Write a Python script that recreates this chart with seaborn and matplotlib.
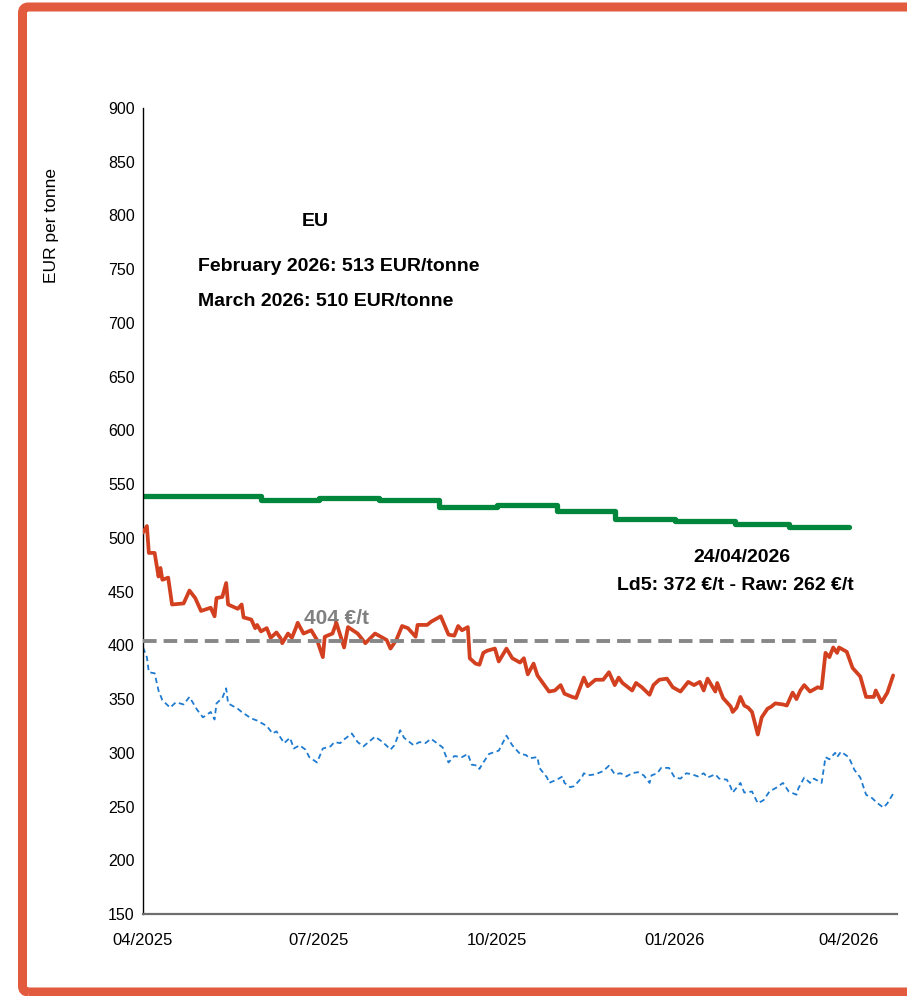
import pandas as pd
import matplotlib
matplotlib.use("Agg")
import matplotlib.pyplot as plt
import matplotlib.dates as mdates
from matplotlib.patches import FancyBboxPatch
from matplotlib.transforms import IdentityTransform
import seaborn as sns

# Ld5 daily price (EUR/t)
ld5_dates = ["2025-04-01", "2025-04-03", "2025-04-04", "2025-04-07", "2025-04-09", "2025-04-10",
             "2025-04-11", "2025-04-14", "2025-04-16", "2025-04-22", "2025-04-25", "2025-04-28",
             "2025-05-01", "2025-05-06", "2025-05-08", "2025-05-09", "2025-05-12", "2025-05-14",
             "2025-05-15", "2025-05-20", "2025-05-22", "2025-05-23", "2025-05-27", "2025-05-29",
             "2025-05-30", "2025-06-01", "2025-06-04", "2025-06-06", "2025-06-09", "2025-06-11",
             "2025-06-12", "2025-06-15", "2025-06-17", "2025-06-19", "2025-06-20", "2025-06-23",
             "2025-06-27", "2025-06-30", "2025-07-03", "2025-07-04", "2025-07-08", "2025-07-10",
             "2025-07-14", "2025-07-16", "2025-07-21", "2025-07-25", "2025-07-30", "2025-08-05",
             "2025-08-07", "2025-08-10", "2025-08-13", "2025-08-16", "2025-08-20", "2025-08-21",
             "2025-08-26", "2025-08-28", "2025-09-02", "2025-09-06", "2025-09-09", "2025-09-11",
             "2025-09-13", "2025-09-16", "2025-09-17", "2025-09-20", "2025-09-22", "2025-09-24",
             "2025-09-26", "2025-09-30", "2025-10-02", "2025-10-06", "2025-10-09", "2025-10-13",
             "2025-10-15", "2025-10-17", "2025-10-20", "2025-10-22", "2025-10-28", "2025-10-31",
             "2025-11-03", "2025-11-05", "2025-11-09", "2025-11-11", "2025-11-15", "2025-11-17",
             "2025-11-21", "2025-11-25", "2025-11-28", "2025-12-01", "2025-12-03", "2025-12-05",
             "2025-12-10", "2025-12-12", "2025-12-15", "2025-12-19", "2025-12-21", "2025-12-24",
             "2025-12-28", "2025-12-31", "2026-01-04", "2026-01-08", "2026-01-11", "2026-01-14",
             "2026-01-16", "2026-01-18", "2026-01-20", "2026-01-22", "2026-01-23", "2026-01-26",
             "2026-01-30", "2026-01-31", "2026-02-02", "2026-02-04", "2026-02-06", "2026-02-08",
             "2026-02-10", "2026-02-13", "2026-02-15", "2026-02-18", "2026-02-20", "2026-02-22",
             "2026-02-26", "2026-02-28", "2026-03-03", "2026-03-05", "2026-03-07", "2026-03-09",
             "2026-03-12", "2026-03-16", "2026-03-18", "2026-03-20", "2026-03-22", "2026-03-24",
             "2026-03-26", "2026-03-27", "2026-03-31", "2026-04-03", "2026-04-07", "2026-04-10",
             "2026-04-14", "2026-04-15", "2026-04-18", "2026-04-21", "2026-04-24"]
ld5_values = [505, 511, 486, 486, 464, 472,
              461, 463, 438, 439, 451, 444,
              432, 435, 427, 444, 445, 458,
              438, 434, 438, 426, 424, 416,
              419, 413, 416, 407, 412, 407,
              402, 411, 407, 416, 421, 411,
              414, 405, 389, 408, 411, 421,
              398, 417, 411, 402, 411, 405,
              397, 405, 418, 416, 408, 419,
              419, 422, 427, 410, 409, 418,
              414, 417, 388, 383, 382, 393,
              395, 397, 385, 397, 388, 384,
              388, 373, 383, 372, 357, 358,
              363, 355, 352, 351, 370, 362,
              368, 368, 375, 363, 370, 365,
              358, 365, 361, 354, 363, 368,
              369, 361, 357, 366, 363, 366,
              358, 369, 363, 357, 365, 351,
              343, 338, 342, 352, 344, 342,
              338, 317, 333, 341, 343, 346,
              345, 344, 356, 350, 358, 363,
              357, 361, 360, 393, 389, 398,
              393, 398, 394, 379, 371, 352,
              352, 358, 347, 356, 372]

# raw price (EUR/t)
raw_dates = ["2025-04-01", "2025-04-03", "2025-04-04", "2025-04-07", "2025-04-09", "2025-04-11",
             "2025-04-15", "2025-04-18", "2025-04-22", "2025-04-25", "2025-04-29", "2025-05-02",
             "2025-05-06", "2025-05-08", "2025-05-09", "2025-05-12", "2025-05-14", "2025-05-15",
             "2025-05-20", "2025-05-22", "2025-05-27", "2025-05-30", "2025-06-04", "2025-06-07",
             "2025-06-09", "2025-06-13", "2025-06-16", "2025-06-18", "2025-06-21", "2025-06-24",
             "2025-06-26", "2025-06-30", "2025-07-03", "2025-07-07", "2025-07-09", "2025-07-12",
             "2025-07-13", "2025-07-18", "2025-07-21", "2025-07-24", "2025-07-30", "2025-08-03",
             "2025-08-07", "2025-08-09", "2025-08-12", "2025-08-14", "2025-08-19", "2025-08-22",
             "2025-08-25", "2025-08-28", "2025-09-03", "2025-09-04", "2025-09-06", "2025-09-09",
             "2025-09-13", "2025-09-16", "2025-09-18", "2025-09-21", "2025-09-22", "2025-09-24",
             "2025-09-27", "2025-10-02", "2025-10-04", "2025-10-06", "2025-10-09", "2025-10-13",
             "2025-10-16", "2025-10-18", "2025-10-22", "2025-10-23", "2025-10-27", "2025-10-28",
             "2025-11-01", "2025-11-04", "2025-11-05", "2025-11-08", "2025-11-10", "2025-11-14",
             "2025-11-15", "2025-11-17", "2025-11-21", "2025-11-25", "2025-11-28", "2025-12-01",
             "2025-12-04", "2025-12-07", "2025-12-10", "2025-12-13", "2025-12-16", "2025-12-19",
             "2025-12-20", "2025-12-23", "2025-12-25", "2025-12-29", "2026-01-01", "2026-01-04",
             "2026-01-07", "2026-01-10", "2026-01-13", "2026-01-16", "2026-01-18", "2026-01-22",
             "2026-01-24", "2026-01-28", "2026-01-30", "2026-01-31", "2026-02-04", "2026-02-06",
             "2026-02-10", "2026-02-13", "2026-02-16", "2026-02-19", "2026-02-23", "2026-02-26",
             "2026-03-01", "2026-03-05", "2026-03-06", "2026-03-09", "2026-03-12", "2026-03-14",
             "2026-03-18", "2026-03-20", "2026-03-22", "2026-03-25", "2026-03-26", "2026-03-28",
             "2026-04-01", "2026-04-04", "2026-04-07", "2026-04-10", "2026-04-13", "2026-04-16",
             "2026-04-19", "2026-04-21", "2026-04-24"]
raw_values = [398, 389, 375, 374, 358, 349,
              342, 347, 345, 352, 340, 333,
              338, 331, 346, 351, 360, 346,
              341, 338, 332, 330, 325, 318,
              320, 309, 314, 304, 307, 303,
              296, 291, 304, 306, 310, 309,
              311, 318, 310, 306, 315, 310,
              303, 307, 321, 314, 307, 310,
              309, 313, 305, 300, 291, 297,
              296, 299, 289, 288, 285, 291,
              299, 302, 309, 316, 307, 299,
              298, 295, 296, 286, 277, 272,
              275, 278, 272, 268, 269, 277,
              281, 279, 280, 283, 288, 280,
              281, 278, 281, 282, 279, 272,
              279, 281, 286, 286, 277, 276,
              281, 280, 278, 281, 277, 280,
              276, 275, 268, 263, 272, 263,
              264, 253, 256, 264, 268, 272,
              264, 261, 267, 277, 272, 276,
              272, 296, 294, 300, 296, 301,
              296, 284, 277, 261, 258, 253,
              249, 253, 262]

# EU monthly reference price, last month repeated so the step reaches 04/2026
eu_months = ["2025-04-01", "2025-05-01", "2025-06-01", "2025-07-01", "2025-08-01", "2025-09-01",
             "2025-10-01", "2025-11-01", "2025-12-01", "2026-01-01", "2026-02-01", "2026-03-01",
             "2026-04-01"]
eu_values = [539, 539, 535, 537, 535, 529, 531, 525, 518, 516, 513, 510, 510]

avg_dates = ["2025-04-01", "2026-03-28"]
avg_values = [404, 404]

ld5 = pd.DataFrame({"date": pd.to_datetime(ld5_dates), "price": ld5_values})
raw = pd.DataFrame({"date": pd.to_datetime(raw_dates), "price": raw_values})
eu = pd.DataFrame({"date": pd.to_datetime(eu_months), "price": eu_values})
avg = pd.DataFrame({"date": pd.to_datetime(avg_dates), "price": avg_values})

sns.set_theme(style="white")
plt.rcParams["font.family"] = ["Liberation Sans Narrow", "Liberation Sans", "DejaVu Sans"]

fig = plt.figure(figsize=(9.07, 9.96), dpi=100)
ax = fig.add_axes([0.1577, 0.0823, 0.8313, 0.8093])

sns.lineplot(data=eu, x="date", y="price", ax=ax, color="#00873C", linewidth=3.8,
             drawstyle="steps-post", estimator=None)
sns.lineplot(data=ld5, x="date", y="price", ax=ax, color="#D2401F", linewidth=2.7,
             estimator=None, zorder=3)
sns.lineplot(data=avg, x="date", y="price", ax=ax, color="#878787", linewidth=2.8,
             linestyle=(0, (3.5, 1.8)), estimator=None, zorder=4)
sns.lineplot(data=raw, x="date", y="price", ax=ax, color="#1F7BD0", linewidth=1.3,
             linestyle=(0, (3, 2)), estimator=None)

ax.set_ylim(150, 900)
ax.set_yticks(range(150, 901, 50))
ax.set_xlim(pd.Timestamp("2025-04-01"), pd.Timestamp("2026-04-26"))
ax.set_xticks(pd.to_datetime(["2025-04-01", "2025-07-01", "2025-10-01", "2026-01-01", "2026-04-01"]))
ax.xaxis.set_major_formatter(mdates.DateFormatter("%m/%Y"))
ax.set_xlabel("")
ax.set_ylabel("")

sns.despine(ax=ax)
ax.spines["left"].set_color("black")
ax.spines["left"].set_linewidth(1.0)
ax.spines["bottom"].set_color("#6E6E6E")
ax.spines["bottom"].set_linewidth(1.6)
ax.tick_params(axis="y", direction="in", length=5, width=1, color="black",
               labelsize=11.5, pad=6, labelcolor="black")
ax.tick_params(axis="x", direction="in", length=6, width=0.8, color="#6E6E6E",
               labelsize=12, pad=14, labelcolor="black")

fig.text(0.057, 0.774, "EUR per tonne", rotation=90, ha="center", va="center",
         fontsize=12.5, color="black", family=["Liberation Sans", "DejaVu Sans"])

bold = dict(fontweight="bold", color="black", fontsize=14, transform=ax.transAxes)
ax.text(0.228, 0.859, "EU", ha="center", va="center", **bold)
ax.text(0.073, 0.803, "February 2026: 513 EUR/tonne", ha="left", va="center", **bold)
ax.text(0.073, 0.760, "March 2026: 510 EUR/tonne", ha="left", va="center", **bold)
ax.text(0.256, 0.367, "404 €/t", ha="center", va="center", fontsize=15,
        fontweight="bold", color="#808080", transform=ax.transAxes, zorder=1)
ax.text(0.794, 0.442, "24/04/2026", ha="center", va="center", **bold)
ax.text(0.785, 0.407, "Ld5: 372 €/t - Raw: 262 €/t", ha="center", va="center", **bold)

# orange frame around the figure
frame = FancyBboxPatch((22.5, 4), 905, 985, boxstyle="round,pad=0,rounding_size=6",
                       transform=IdentityTransform(), facecolor="none",
                       edgecolor="#E35B3E", linewidth=6.5)
fig.patches.append(frame)

fig.savefig("out.png", dpi=100)
